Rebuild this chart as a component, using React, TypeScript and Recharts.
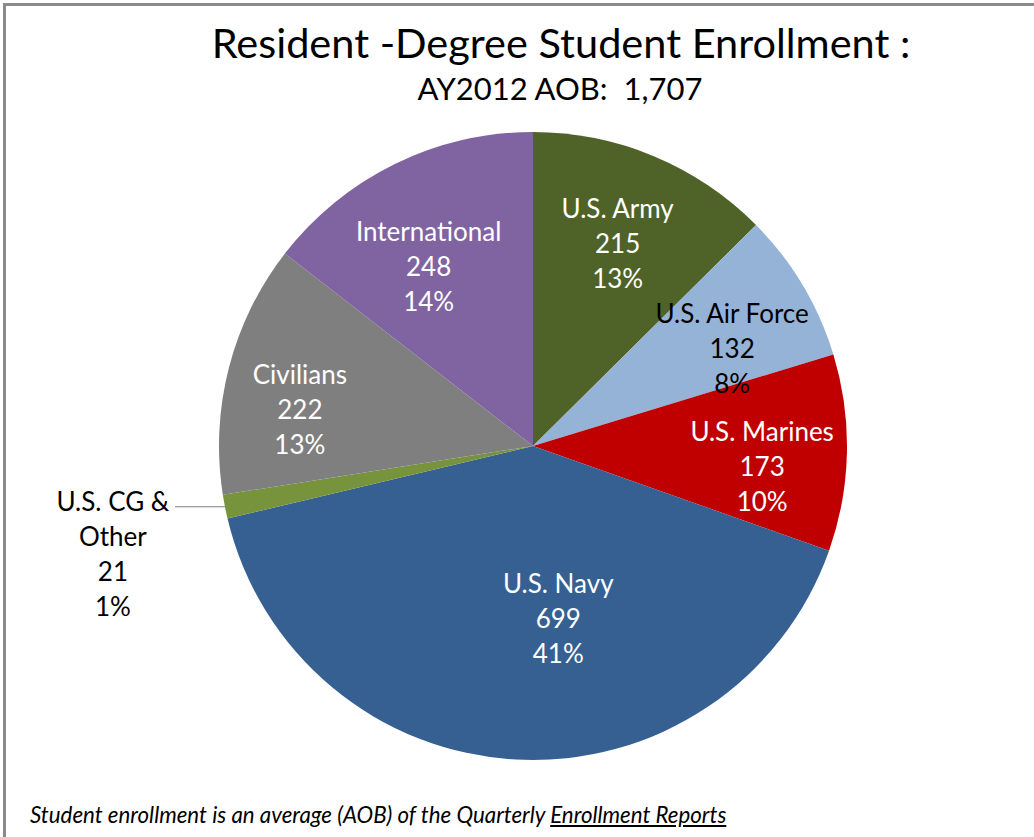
import React from 'react';
import { PieChart, Pie, Cell } from 'recharts';

const categories = ['U.S. Army', 'U.S. Air Force', 'U.S. Marines', 'U.S. Navy', 'U.S. CG & Other', 'Civilians', 'International'];
const enrollment = [215, 132, 173, 699, 21, 222, 248];
const percentLabels = ['13%', '8%', '10%', '41%', '1%', '13%', '14%'];

const COLORS = ['#4F6228', '#95B3D7', '#C00000', '#366092', '#77933C', '#7F7F7F', '#8064A2'];
const TEXT_COLORS = ['#fff', '#000', '#fff', '#fff', '#000', '#fff', '#fff'];
// label distance from centre and angle nudge (deg, clockwise) to mimic Excel "best fit"
const LABEL_R = [220, 222, 230, 174, 0, 236, 208];
const LABEL_DA = [0, 4.6, 3.7, -11.4, 0, -5.5, -4];

const FONT = 'Lato, "Open Sans", sans-serif';
const RADIAN = Math.PI / 180;
const LINE_H = 35;
const LABEL_SIZE = 26;

const chartData = categories.map((name, i) => ({ name, value: enrollment[i], pct: percentLabels[i] }));

const splitName = (name: string) => (name === 'U.S. CG & Other' ? ['U.S. CG &', 'Other'] : [name]);

const renderLabel = (props: any) => {
  const { cx, cy, midAngle, outerRadius, index } = props;
  const d = chartData[index];
  const lines = [...splitName(d.name), String(d.value), d.pct];
  const cw = 90 - midAngle;

  if (LABEL_R[index] === 0) {
    // small slice: label outside with a leader line
    const ex = cx + outerRadius * Math.sin(cw * RADIAN);
    const ey = cy - outerRadius * Math.cos(cw * RADIAN);
    const tx = ex - 112;
    const ty = ey - 6;
    return (
      <g key={`lbl-${index}`}>
        <line x1={ex} y1={ey} x2={ex - 50} y2={ey} stroke="#7F7F7F" strokeWidth={1.2} />
        <text x={tx} y={ty} textAnchor="middle" fill={TEXT_COLORS[index]} fontSize={LABEL_SIZE} fontFamily={FONT}>
          {lines.map((l, k) => (
            <tspan key={k} x={tx} y={ty + k * LINE_H} dominantBaseline="central">{l}</tspan>
          ))}
        </text>
      </g>
    );
  }

  const a = (cw + LABEL_DA[index]) * RADIAN;
  const x = cx + LABEL_R[index] * Math.sin(a);
  const y = cy - LABEL_R[index] * Math.cos(a);
  const y0 = y - ((lines.length - 1) * LINE_H) / 2;
  return (
    <text key={`lbl-${index}`} x={x} y={y0} textAnchor="middle" fill={TEXT_COLORS[index]} fontSize={LABEL_SIZE} fontFamily={FONT}>
      {lines.map((l, k) => (
        <tspan key={k} x={x} y={y0 + k * LINE_H} dominantBaseline="central">{l}</tspan>
      ))}
    </text>
  );
};

export default function App() {
  return (
    <div style={{ position: 'absolute', left: 0, top: 0, width: 1034, height: 837, background: '#fff', overflow: 'hidden', fontFamily: FONT }}>
      <div style={{ position: 'absolute', left: 3, top: 3, width: 1100, height: 900, borderTop: '3px solid #8A8A8A', borderLeft: '3px solid #8A8A8A' }} />
      <div style={{ position: 'absolute', left: 0, top: 0 }}>
        <PieChart width={1034} height={837} margin={{ top: 0, right: 0, bottom: 0, left: 0 }}>
          <Pie
            data={chartData}
            dataKey="value"
            nameKey="name"
            cx={533}
            cy={446}
            outerRadius={314}
            startAngle={90}
            endAngle={-270}
            stroke="none"
            labelLine={false}
            label={renderLabel}
            isAnimationActive={false}
          >
            {chartData.map((_, i) => (
              <Cell key={i} fill={COLORS[i]} />
            ))}
          </Pie>
        </PieChart>
      </div>
      <div style={{ position: 'absolute', left: 0, width: 1122, top: 18, textAlign: 'center', fontSize: 41.5, lineHeight: '48px', color: '#000' }}>
        Resident -Degree Student Enrollment :
      </div>
      <div style={{ position: 'absolute', left: 0, width: 1120, top: 69, textAlign: 'center', fontSize: 31, lineHeight: '38px', color: '#000', whiteSpace: 'pre' }}>
        {'AY2012 AOB:  1,707'}
      </div>
      <div style={{ position: 'absolute', left: 30, top: 802, fontSize: 22.3, lineHeight: '26px', fontStyle: 'italic', color: '#000', whiteSpace: 'nowrap' }}>
        Student enrollment is an average (AOB) of the Quarterly <span style={{ textDecoration: 'underline' }}>Enrollment Reports</span>
      </div>
    </div>
  );
}
